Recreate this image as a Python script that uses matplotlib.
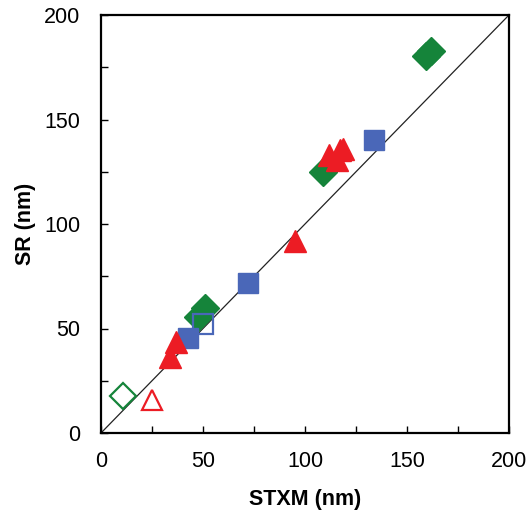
import matplotlib
matplotlib.use("Agg")
import matplotlib.pyplot as plt
from matplotlib.ticker import MultipleLocator

plt.rcParams['font.family'] = ['Liberation Sans', 'DejaVu Sans']

# Data (STXM, SR) in nm
green_filled_x = [159.5, 162, 109, 51, 47.5]
green_filled_y = [180.5, 183, 125, 60, 55.5]
green_open_x = [11]
green_open_y = [17.5]

blue_filled_x = [134, 72, 42.6]
blue_filled_y = [140, 72, 45.4]
blue_open_x = [50]
blue_open_y = [52]

red_filled_x = [112, 115.7, 117, 118.6, 95, 33.8, 37]
red_filled_y = [133, 130.6, 135.4, 136, 92, 36.4, 43.5]
red_open_x = [25]
red_open_y = [16]

xticks = [0, 50, 100, 150, 200]
yticks = [0, 50, 100, 150, 200]

green = '#15843a'
blue = '#4a67b8'
red = '#ec1c24'

fig = plt.figure(figsize=(5.28, 5.19), dpi=100)
ax = fig.add_axes([101/528, 86/519, 408/528, 418/519])

ax.plot([0, 200], [0, 200], color='#222222', lw=0.9, zorder=1)

ax.plot(green_filled_x, green_filled_y, 'D', ms=14, color=green, mec=green, zorder=3)
ax.plot(green_open_x, green_open_y, 'D', ms=13, mfc='none', mec=green, mew=1.6, zorder=3)
ax.plot(blue_filled_x, blue_filled_y, 's', ms=14.5, color=blue, mec=blue, zorder=3)
ax.plot(blue_open_x, blue_open_y, 's', ms=15, mfc='none', mec=blue, mew=1.6, zorder=4)
ax.plot(red_filled_x, red_filled_y, '^', ms=15.5, color=red, mec=red, zorder=3)
ax.plot(red_open_x, red_open_y, '^', ms=15, mfc='none', mec=red, mew=1.6, zorder=3)

ax.set_xlim(0, 200)
ax.set_ylim(0, 200)
ax.set_xticks(xticks)
ax.set_yticks(yticks)
ax.xaxis.set_minor_locator(MultipleLocator(25))
ax.yaxis.set_minor_locator(MultipleLocator(25))
ax.tick_params(which='both', direction='in', length=5, width=1, top=False, right=False)
ax.tick_params(axis='x', which='major', pad=13, labelsize=15.5)
ax.tick_params(axis='y', which='major', pad=15, labelsize=15.5)
for s in ax.spines.values():
    s.set_linewidth(1.6)

ax.set_xlabel('STXM (nm)', fontsize=15.5, fontweight='bold', labelpad=12)
ax.set_ylabel('SR (nm)', fontsize=15.5, fontweight='bold', labelpad=6)

fig.savefig('out.png', dpi=100)
